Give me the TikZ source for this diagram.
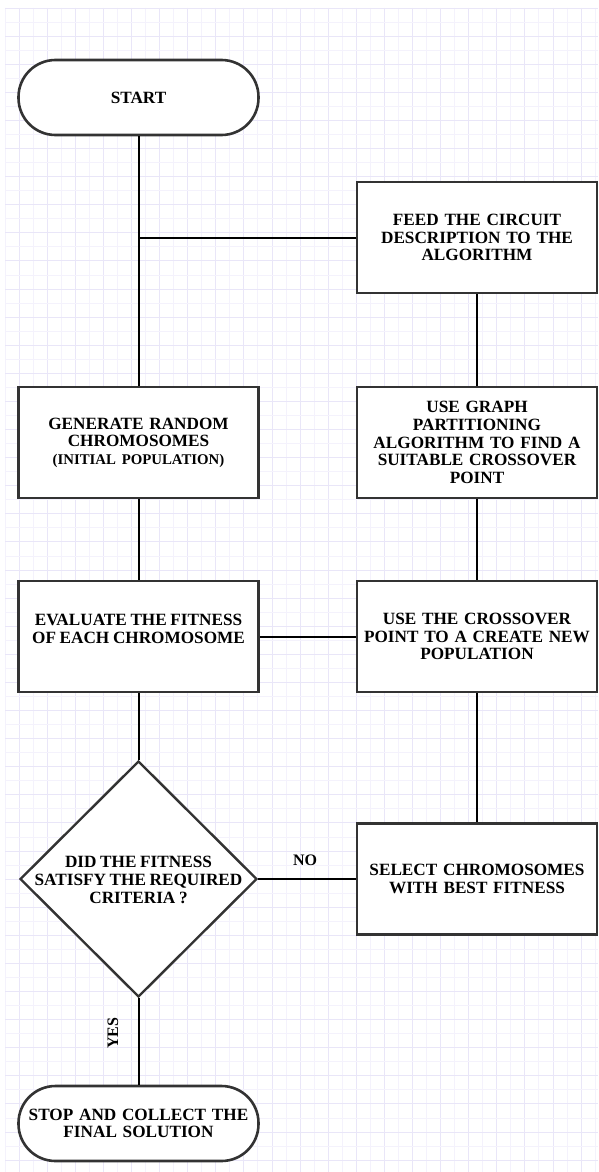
\documentclass[tikz,border=0pt]{standalone}
\usepackage{fontspec}
\setmainfont{Liberation Serif}[WordSpace={0.85,0.5,0.3}]
\usetikzlibrary{shapes.geometric}
\definecolor{gridminor}{HTML}{F4F2FC}
\definecolor{gridmajor}{HTML}{E9E6F8}
\definecolor{edgegray}{HTML}{333333}
\tikzset{
  labelfont/.style={font=\fontsize{17.2}{17.6}\selectfont\bfseries},
  procbox/.style={draw=edgegray, line width=2.6pt, fill=white, minimum width=240pt,
    minimum height=111pt, inner sep=0pt, align=center, text width=236pt, labelfont},
  terminal/.style={procbox, minimum height=75pt, rounded corners=37pt},
  decision/.style={draw=edgegray, line width=2.4pt, fill=white, diamond, aspect=1,
    minimum width=237pt, minimum height=236pt, inner sep=0pt},
  plaintext/.style={align=center, inner sep=0pt, labelfont},
  link/.style={line width=2pt, black},
  edgelabel/.style={font=\fontsize{16}{16}\selectfont\bfseries, inner sep=0pt},
}
\begin{document}
\begin{tikzpicture}[x=1pt, y=-1pt]
  \useasboundingbox (0,0) rectangle (598,1172);
  \fill[white] (0,0) rectangle (598,1172);
  % background grid paper
  \foreach \k in {0,...,42} {
    \pgfmathsetmacro{\gx}{5+14.05*\k}
    \pgfmathtruncatemacro{\odd}{mod(\k,2)}
    \ifnum\odd=1
      \draw[gridmajor, line width=0.9pt] (\gx,8) -- (\gx,1172);
    \else
      \draw[gridminor, line width=0.9pt] (\gx,8) -- (\gx,1172);
    \fi
  }
  \foreach \k in {0,...,83} {
    \pgfmathsetmacro{\gy}{8+14.05*\k}
    \pgfmathtruncatemacro{\odd}{mod(\k,2)}
    \ifnum\odd=0
      \draw[gridmajor, line width=0.9pt] (5,\gy) -- (598,\gy);
    \else
      \draw[gridminor, line width=0.9pt] (5,\gy) -- (598,\gy);
    \fi
  }

  % flowchart nodes
  \node[terminal] (start) at (138.5,97.5) {START};
  \node[procbox] (feed) at (477,237.5) {FEED THE CIRCUIT\\DESCRIPTION TO THE\\ALGORITHM};
  \node[procbox] (gen) at (138.5,442.5) {GENERATE RANDOM\\CHROMOSOMES\\{\fontsize{14.8}{15}\selectfont (INITIAL POPULATION)}};
  \node[procbox] (graph) at (477,442.5) {USE GRAPH\\PARTITIONING\\ALGORITHM TO FIND A\\SUITABLE CROSSOVER\\POINT};
  \node[procbox] (eval) at (138.5,636.5) {};
  \node[plaintext] (evaltext) at (138.5,629) {EVALUATE THE FITNESS\\OF EACH CHROMOSOME};
  \node[procbox] (cross) at (477,636.5) {USE THE CROSSOVER\\POINT TO A CREATE NEW\\POPULATION};
  \node[decision] (dec) at (138.5,879) {};
  \node[plaintext] (dectext) at (138.5,880) {DID THE FITNESS\\SATISFY THE REQUIRED\\CRITERIA ?};
  \node[procbox] (select) at (477,879) {SELECT CHROMOSOMES\\WITH BEST FITNESS};
  \node[terminal] (stop) at (138.5,1123.5) {STOP AND COLLECT THE\\FINAL SOLUTION};

  \coordinate (junction) at (138.5,237.5);

  % connectors
  \draw[link] (start.south) -- (gen.north);
  \draw[link] (junction) -- (feed.west);
  \draw[link] (feed.south) -- (graph.north);
  \draw[link] (graph.south) -- (cross.north);
  \draw[link] (gen.south) -- (eval.north);
  \draw[link] (eval.east) -- (cross.west);
  \draw[link] (cross.south) -- (select.north);
  \draw[link] (eval.south) -- (dec.north);
  \draw[link] (dec.east) -- (select.west);
  \draw[link] (dec.south) -- (stop.north);

  % branch labels
  \node[edgelabel] (nolabel) at (305,860) {NO};
  \node[edgelabel, rotate=90] (yeslabel) at (113,1033) {YES};
\end{tikzpicture}
\end{document}
